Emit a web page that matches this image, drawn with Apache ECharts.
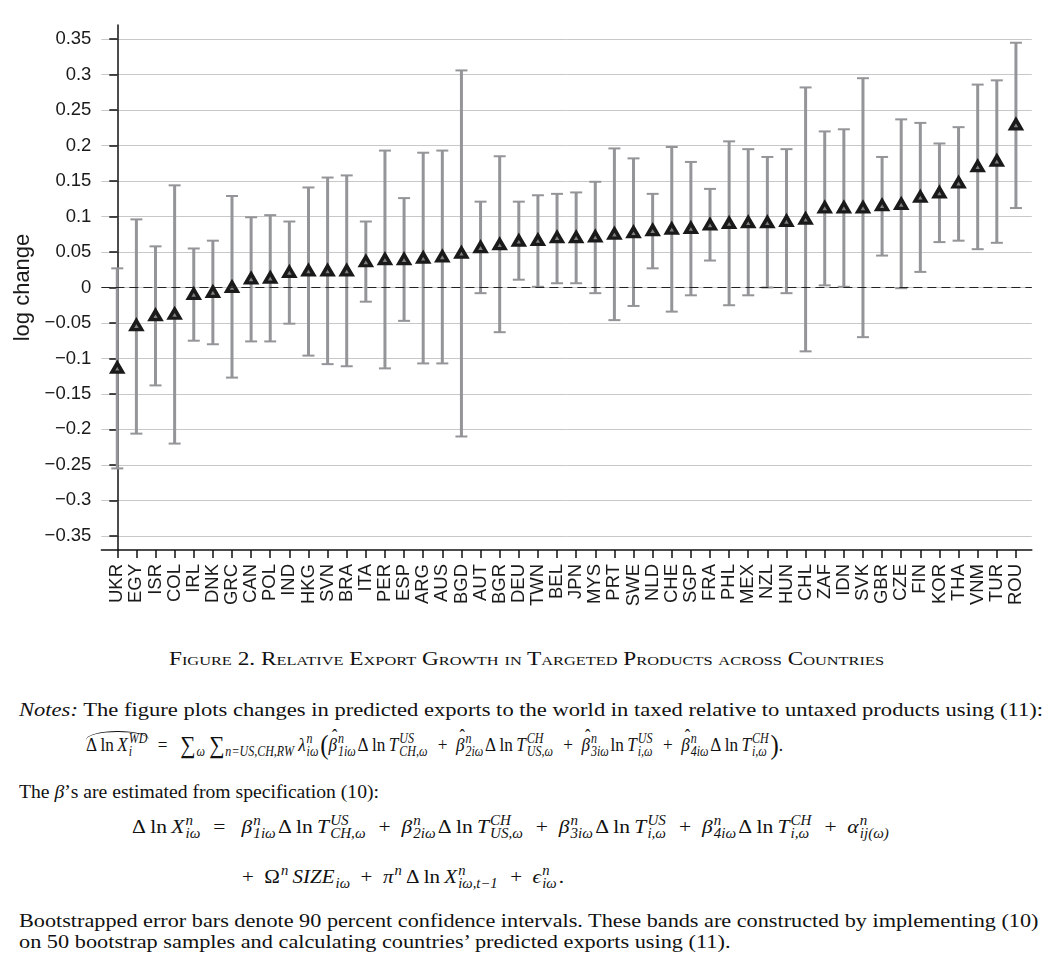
<!DOCTYPE html>
<html>
<head>
<meta charset="utf-8">
<script src="https://cdn.jsdelivr.net/npm/echarts/dist/echarts.min.js"></script>
<style>
  body { margin: 0; background: #fff; }
  #page { position: relative; width: 1049px; height: 980px; overflow: hidden; background: #fff; }
  #chart { position: absolute; left: 0; top: 0; width: 1049px; height: 630px; }
  .ln { position: absolute; left: 0; top: 0; white-space: nowrap; font-family: 'Liberation Serif', 'Times New Roman', serif;
        font-size: 19.5px; line-height: 1.2; color: #111; transform-origin: 0 0; }
  .ss { display: inline-flex; flex-direction: column; font-size: 0.7em; line-height: 1; vertical-align: 0.6em;
        font-style: italic; margin-left: 1px; margin-right: 2px; }
  .sp { font-size: 0.7em; vertical-align: 0.6em; font-style: italic; margin-left: 1px; }
  .sb { font-size: 0.7em; vertical-align: -0.37em; font-style: italic; margin-left: 1px; }
  .big { font-size: 1.25em; vertical-align: -0.08em; }
  .pr { font-size: 1.45em; vertical-align: -0.12em; }
  .hb { position: relative; display: inline-block; }
  .hb::after { content: '\02C6'; position: absolute; left: 0.22em; top: -0.42em; font-style: normal; font-size: 0.95em; }
  .wh { position: relative; display: inline-block; }
  .wh::before { content: ''; position: absolute; left: 0; right: 0; top: -1px; height: 8px;
        border-top: 1px solid #111; border-radius: 50% 50% 0 0 / 100% 100% 0 0; }
</style>
</head>
<body>
<div id="page">
  <div id="chart"></div>
  <div class="ln" id="cap" style="font-size:18.5px; font-variant: small-caps;">Figure 2. Relative Export Growth in Targeted Products across Countries</div>
  <div class="ln" id="n1"><i>Notes:</i> The figure plots changes in predicted exports to the world in taxed relative to untaxed products using (11):</div>
  <div class="ln" id="f1"></div>
  <div class="ln" id="n2">The <i>β</i>’s are estimated from specification (10):</div>
  <div class="ln" id="f2a"></div>
  <div class="ln" id="f2b"></div>
  <div class="ln" id="n3">Bootstrapped error bars denote 90 percent confidence intervals. These bands are constructed by implementing (10)</div>
  <div class="ln" id="n4">on 50 bootstrap samples and calculating countries’ predicted exports using (11).</div>
</div>
<script>
var countries = ['UKR', 'EGY', 'ISR', 'COL', 'IRL', 'DNK', 'GRC', 'CAN', 'POL', 'IND', 'HKG', 'SVN',
    'BRA', 'ITA', 'PER', 'ESP', 'ARG', 'AUS', 'BGD', 'AUT', 'BGR', 'DEU', 'TWN', 'BEL',
    'JPN', 'MYS', 'PRT', 'SWE', 'NLD', 'CHE', 'SGP', 'FRA', 'PHL', 'MEX', 'NZL', 'HUN',
    'CHL', 'ZAF', 'IDN', 'SVK', 'GBR', 'CZE', 'FIN', 'KOR', 'THA', 'VNM', 'TUR', 'ROU'];

var estimate = [-0.113, -0.053, -0.039, -0.037, -0.009, -0.006, 0.001, 0.013, 0.014, 0.022, 0.024, 0.024,
    0.024, 0.037, 0.040, 0.040, 0.042, 0.044, 0.049, 0.057, 0.061, 0.066, 0.067, 0.071,
    0.071, 0.072, 0.076, 0.078, 0.081, 0.083, 0.084, 0.089, 0.091, 0.092, 0.092, 0.094,
    0.097, 0.113, 0.113, 0.113, 0.116, 0.118, 0.128, 0.134, 0.148, 0.171, 0.179, 0.230];

var lower = [-0.255, -0.206, -0.138, -0.220, -0.075, -0.080, -0.127, -0.076, -0.076, -0.051, -0.096, -0.108,
    -0.111, -0.020, -0.114, -0.047, -0.107, -0.107, -0.210, -0.008, -0.063, 0.011, 0.001, 0.006,
    0.006, -0.008, -0.046, -0.026, 0.027, -0.034, -0.011, 0.038, -0.025, -0.011, 0.000, -0.008,
    -0.090, 0.003, 0.001, -0.070, 0.045, -0.001, 0.022, 0.064, 0.066, 0.054, 0.063, 0.112];

var upper = [0.027, 0.096, 0.058, 0.144, 0.055, 0.066, 0.129, 0.099, 0.102, 0.093, 0.141, 0.155,
    0.158, 0.093, 0.193, 0.126, 0.190, 0.193, 0.306, 0.121, 0.185, 0.121, 0.130, 0.132,
    0.134, 0.149, 0.196, 0.182, 0.132, 0.198, 0.177, 0.139, 0.206, 0.195, 0.184, 0.195,
    0.282, 0.220, 0.223, 0.295, 0.184, 0.237, 0.232, 0.203, 0.226, 0.286, 0.292, 0.345];

var yTicks = [0.35, 0.3, 0.25, 0.2, 0.15, 0.1, 0.05, 0, -0.05, -0.1, -0.15, -0.2, -0.25, -0.3, -0.35];
var yTickLabels = ['0.35', '0.3', '0.25', '0.2', '0.15', '0.1', '0.05', '0',
    '\u22120.05', '\u22120.1', '\u22120.15', '\u22120.2', '\u22120.25', '\u22120.3', '\u22120.35'];

var xIdx = [];
var points = [];
var bars = [];
for (var i = 0; i < countries.length; i++) {
    xIdx.push(i);
    points.push([i, estimate[i]]);
    bars.push([i, lower[i], upper[i]]);
}

var sans = 'Liberation Sans';
var barColor = '#939598';

var myChart = echarts.init(document.getElementById('chart'));
var option = {
    animation: false,
    backgroundColor: '#fff',
    grid: { left: 101.4, right: 17.2, top: 25, bottom: 80 },
    xAxis: {
        type: 'value',
        min: -0.83,
        max: 47.83,
        axisLine: { show: true, onZero: false, lineStyle: { color: '#111', width: 1.5 } },
        axisTick: { show: true, customValues: xIdx, length: 8, lineStyle: { color: '#111', width: 1.5 } },
        axisLabel: {
            customValues: xIdx,
            rotate: 90,
            margin: 14,
            fontFamily: sans,
            fontSize: 18.5,
            color: '#1a1a1a',
            formatter: function (v) { return countries[Math.round(v)]; }
        },
        splitLine: { show: false }
    },
    yAxis: {
        type: 'value',
        min: -0.37,
        max: 0.37,
        name: 'log change',
        nameLocation: 'middle',
        nameGap: 66,
        nameTextStyle: { fontFamily: sans, fontSize: 22, color: '#1a1a1a' },
        axisLine: { show: true, lineStyle: { color: '#111', width: 1.5 } },
        axisTick: { show: true, customValues: yTicks, length: 8, lineStyle: { color: '#111', width: 1.5 } },
        axisLabel: {
            customValues: yTicks,
            margin: 10,
            fontFamily: sans,
            fontSize: 18.5,
            color: '#1a1a1a',
            formatter: function (v) {
                for (var k = 0; k < yTicks.length; k++) {
                    if (Math.abs(yTicks[k] - v) < 1e-9) return yTickLabels[k];
                }
                return '';
            }
        },
        splitLine: { show: true, lineStyle: { color: '#c8c8c8', width: 1 } }
    },
    series: [
        {
            name: 'ci',
            type: 'custom',
            data: bars,
            encode: { x: 0, y: [1, 2] },
            z: 2,
            renderItem: function (params, api) {
                var x = api.value(0);
                var lo = api.coord([x, api.value(1)]);
                var hi = api.coord([x, api.value(2)]);
                var w = 6;
                return {
                    type: 'group',
                    children: [
                        { type: 'line', shape: { x1: hi[0], y1: hi[1], x2: lo[0], y2: lo[1] }, style: { stroke: barColor, lineWidth: 3 } },
                        { type: 'line', shape: { x1: hi[0] - w, y1: hi[1], x2: hi[0] + w, y2: hi[1] }, style: { stroke: barColor, lineWidth: 2 } },
                        { type: 'line', shape: { x1: lo[0] - w, y1: lo[1], x2: lo[0] + w, y2: lo[1] }, style: { stroke: barColor, lineWidth: 2 } }
                    ]
                };
            }
        },
        {
            name: 'estimate',
            type: 'scatter',
            data: points,
            symbol: 'triangle',
            symbolSize: [10.5, 9],
            z: 4,
            itemStyle: { color: '#808080', borderColor: '#1a1a1a', borderWidth: 3.5, opacity: 1 },
            markLine: {
                silent: true,
                symbol: 'none',
                label: { show: false },
                lineStyle: { color: '#222', type: [9, 5], width: 1 },
                data: [{ yAxis: 0 }]
            }
        }
    ]
};
myChart.setOption(option);

// notes below the chart
function ss(sup, sub) {
    return '<span class="ss"><span>' + sup + '</span><span>' + sub + '</span></span>';
}
var dl = 'Δ&thinsp;ln&thinsp;';
var pl = '&ensp;+&ensp;';
var bh = '<span class="hb"><i>β</i></span>';
document.getElementById('f1').innerHTML =
    '<span class="wh">' + dl + '<i>X</i>' + ss('WD', 'i') + '</span>&ensp;=&ensp; ' +
    '<span class="big">∑</span><span class="sb">ω</span> <span class="big">∑</span><span class="sb">n=US,CH,RW</span> ' +
    '<i>λ</i>' + ss('n', 'iω') + '<span class="pr">(</span>' +
    bh + ss('n', '1iω') + dl + '<i>T</i>' + ss('US', 'CH,ω') + pl +
    bh + ss('n', '2iω') + dl + '<i>T</i>' + ss('CH', 'US,ω') + pl +
    bh + ss('n', '3iω') + 'ln&thinsp;<i>T</i>' + ss('US', 'i,ω') + pl +
    bh + ss('n', '4iω') + dl + '<i>T</i>' + ss('CH', 'i,ω') + '<span class="pr">)</span>.';
document.getElementById('f2a').innerHTML =
    dl + '<i>X</i>' + ss('n', 'iω') + '&ensp;=&ensp; ' +
    '<i>β</i>' + ss('n', '1iω') + dl + '<i>T</i>' + ss('US', 'CH,ω') + pl +
    '<i>β</i>' + ss('n', '2iω') + dl + '<i>T</i>' + ss('CH', 'US,ω') + pl +
    '<i>β</i>' + ss('n', '3iω') + dl + '<i>T</i>' + ss('US', 'i,ω') + pl +
    '<i>β</i>' + ss('n', '4iω') + dl + '<i>T</i>' + ss('CH', 'i,ω') + pl +
    '<i>α</i>' + ss('n', 'ij(ω)');
document.getElementById('f2b').innerHTML =
    '+&ensp;Ω<span class="sp">n</span>&thinsp;<i>SIZE</i><span class="sb">iω</span>' + pl +
    '<i>π</i><span class="sp">n</span>&thinsp;' + dl + '<i>X</i>' + ss('n', 'iω,t−1') + pl +
    '<i>ϵ</i>' + ss('n', 'iω') + '.';

// fit each line to its spot: left edge, baseline, width
function place(id, left, base, width) {
    var el = document.getElementById(id);
    el.style.left = left + 'px';
    el.style.top = '0px';
    var m = document.createElement('span');
    m.style.display = 'inline-block';
    m.style.width = '0';
    m.style.height = '0';
    el.appendChild(m);
    var r = el.getBoundingClientRect();
    var mr = m.getBoundingClientRect();
    el.style.transform = 'scaleX(' + (width / r.width) + ')';
    el.style.top = (base - (mr.top - r.top)) + 'px';
}
place('cap', 169, 665, 715);
place('n1', 18.5, 716, 1024);
place('f1', 86, 751, 697);
place('n2', 18.5, 798, 360);
place('f2a', 132, 833, 759);
place('f2b', 242, 883, 322);
place('n3', 18.5, 926.5, 1019.5);
place('n4', 18.5, 948, 711.5);
</script>
</body>
</html>
